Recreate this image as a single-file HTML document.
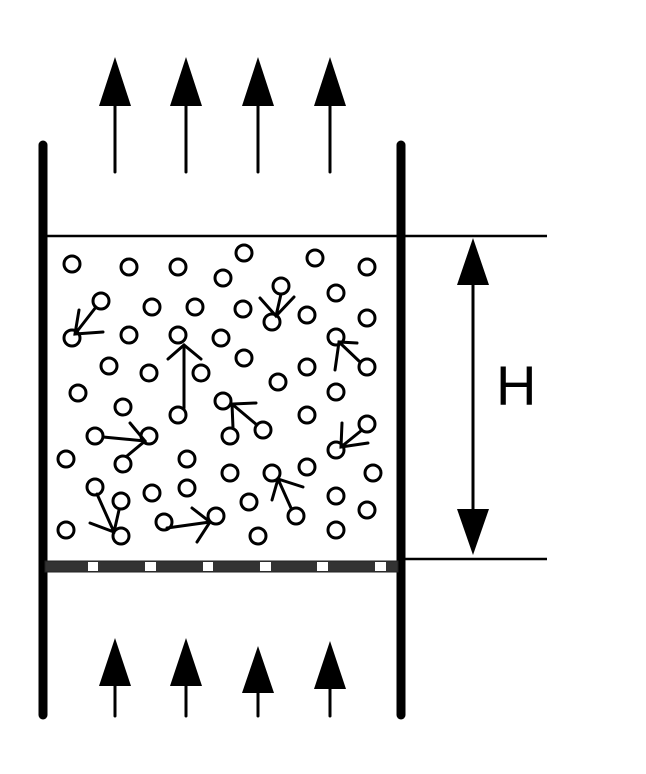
<!DOCTYPE html>
<html><head><meta charset="utf-8"><style>html,body{margin:0;padding:0;background:#fff}svg{display:block}</style></head>
<body>
<svg width="646" height="774" viewBox="0 0 646 774" xmlns="http://www.w3.org/2000/svg">
<g stroke="#000" fill="none" stroke-linecap="round">
<line x1="43" y1="145" x2="43" y2="715" stroke-width="9"/>
<line x1="401" y1="145" x2="401" y2="715" stroke-width="9"/>
</g>
<g stroke="#000" stroke-width="2.5">
<line x1="47" y1="236" x2="547" y2="236"/>
<line x1="405" y1="559" x2="547" y2="559"/>
</g>
<rect x="45" y="561" width="353" height="11" fill="#333" stroke="#222" stroke-width="1"/>
<g fill="#fff">
<rect x="88" y="562" width="10" height="9"/><rect x="145" y="562" width="11" height="9"/><rect x="203" y="562" width="10" height="9"/><rect x="260" y="562" width="11" height="9"/><rect x="317" y="562" width="11" height="9"/><rect x="375" y="562" width="11" height="9"/>
</g>
<!-- top arrows -->
<g stroke="#000" stroke-width="3" stroke-linecap="round">
<line x1="115" y1="100" x2="115" y2="172"/><line x1="186" y1="100" x2="186" y2="172"/><line x1="258" y1="100" x2="258" y2="172"/><line x1="330" y1="100" x2="330" y2="172"/>
<line x1="115" y1="680" x2="115" y2="716"/><line x1="186" y1="680" x2="186" y2="716"/><line x1="258" y1="690" x2="258" y2="716"/><line x1="330" y1="685" x2="330" y2="716"/>
<line x1="473" y1="280" x2="473" y2="515"/>
</g>
<g fill="#000">
<polygon points="115,57 99,106 131,106"/><polygon points="186,57 170,106 202,106"/><polygon points="258,57 242,106 274,106"/><polygon points="330,57 314,106 346,106"/>
<polygon points="115,638 99,686 131,686"/><polygon points="186,638 170,686 202,686"/><polygon points="258,646 242,693 274,693"/><polygon points="330,641 314,689 346,689"/>
<polygon points="473,238 457,285 489,285"/><polygon points="473,555 457,509 489,509"/>
</g>
<text x="496" y="405" font-family="Liberation Sans, sans-serif" font-size="56">H</text>
<g stroke="#000" stroke-width="3" fill="none" stroke-linecap="round">
<circle cx="72" cy="264" r="8"/><circle cx="129" cy="267" r="8"/><circle cx="178" cy="267" r="8"/><circle cx="244" cy="253" r="8"/><circle cx="223" cy="278" r="8"/><circle cx="315" cy="258" r="8"/><circle cx="367" cy="267" r="8"/>
<circle cx="101" cy="301" r="8"/><circle cx="152" cy="307" r="8"/><circle cx="195" cy="307" r="8"/><circle cx="243" cy="309" r="8"/><circle cx="281" cy="286" r="8"/><circle cx="272" cy="322" r="8"/><circle cx="307" cy="315" r="8"/><circle cx="336" cy="293" r="8"/><circle cx="367" cy="318" r="8"/>
<circle cx="72" cy="338" r="8"/><circle cx="129" cy="335" r="8"/><circle cx="178" cy="335" r="8"/><circle cx="221" cy="338" r="8"/><circle cx="244" cy="358" r="8"/><circle cx="336" cy="337" r="8"/><circle cx="367" cy="367" r="8"/>
<circle cx="109" cy="366" r="8"/><circle cx="149" cy="373" r="8"/><circle cx="201" cy="373" r="8"/><circle cx="278" cy="382" r="8"/><circle cx="307" cy="367" r="8"/><circle cx="336" cy="392" r="8"/><circle cx="78" cy="393" r="8"/>
<circle cx="123" cy="407" r="8"/><circle cx="178" cy="415" r="8"/><circle cx="223" cy="401" r="8"/><circle cx="230" cy="436" r="8"/><circle cx="263" cy="430" r="8"/><circle cx="307" cy="415" r="8"/><circle cx="367" cy="424" r="8"/><circle cx="336" cy="450" r="8"/>
<circle cx="95" cy="436" r="8"/><circle cx="149" cy="436" r="8"/><circle cx="123" cy="464" r="8"/><circle cx="66" cy="459" r="8"/><circle cx="187" cy="459" r="8"/><circle cx="230" cy="473" r="8"/><circle cx="272" cy="473" r="8"/><circle cx="307" cy="467" r="8"/><circle cx="373" cy="473" r="8"/>
<circle cx="95" cy="487" r="8"/><circle cx="121" cy="501" r="8"/><circle cx="152" cy="493" r="8"/><circle cx="187" cy="488" r="8"/><circle cx="249" cy="502" r="8"/><circle cx="296" cy="516" r="8"/><circle cx="336" cy="496" r="8"/><circle cx="367" cy="510" r="8"/>
<circle cx="66" cy="530" r="8"/><circle cx="121" cy="536" r="8"/><circle cx="164" cy="522" r="8"/><circle cx="216" cy="516" r="8"/><circle cx="258" cy="536" r="8"/><circle cx="336" cy="530" r="8"/>
<!-- velocity arrows -->
<path d="M96,307 L75,334 M79,310 L75,334 L103,332"/>
<path d="M281,294 L276,316 M260,298 L276,316 L294,297"/>
<path d="M184,408 L184,345 M168,359 L184,345 L201,359"/>
<path d="M360,362 L339,342 M335,370 L339,342 L357,343"/>
<path d="M257,425 L232,404 M256,403 L232,404 L233,428"/>
<path d="M103,437 L145,441 M130,423 L145,441 L127,456"/>
<path d="M362,430 L341,447 M342,423 L341,447 L368,443"/>
<path d="M291,508 L278,479 M272,500 L278,479 L303,487"/>
<path d="M97,494 L114,532 M90,523 L114,532 L119,510"/>
<path d="M167,528 L210,522 M192,508 L210,522 L197,542"/>
</g>
</svg>
</body></html>
